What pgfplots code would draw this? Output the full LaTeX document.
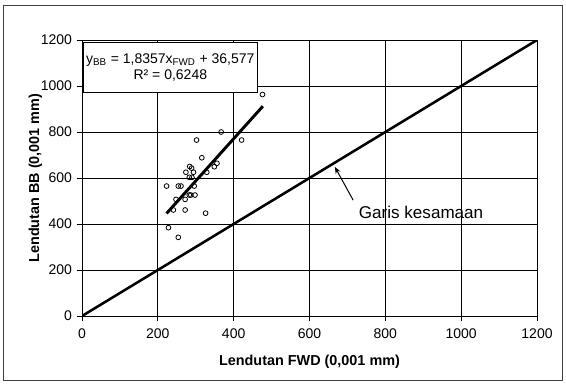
\documentclass[border=0pt]{standalone}
\usepackage{fontspec}
\setmainfont{Liberation Sans}
\usepackage{pgfplots}
\pgfplotsset{compat=1.18}
\usetikzlibrary{arrows.meta}

% FWD vs Benkelman beam deflections
\pgfplotstableread{
x   y
476 963
367 800
302 765
421 765
316 688
356 664
349 649
284 650
289 643
274 625
294 625
329 625
283 603
290 603
223 565
254 565
261 565
296 565
283 526
287 526
298 526
248 507
272 507
241 461
272 461
326 447
228 384
254 342
}\deflections

\begin{document}
\begin{tikzpicture}
\path[use as bounding box] (-61.5pt,-50.25pt) rectangle (363pt,237pt);
\draw[line width=0.75pt, black!75] (-58.5pt,-48pt) rectangle (360pt,233.25pt);
\begin{axis}[
  at={(0pt,0pt)}, anchor=south west,
  scale only axis, width=341.25pt, height=207pt,
  xmin=0, xmax=1200, ymin=0, ymax=1200,
  xtick={0,200,...,1200}, ytick={0,200,...,1200},
  grid=major,
  major grid style={black, line width=0.6pt},
  axis line style={black, line width=0.75pt},
  tick style={black, line width=0.6pt},
  tick align=outside, tick pos=left, major tick length=4pt,
  ticklabel style={font=\fontsize{10.5}{12}\selectfont},
  xticklabel style={yshift=-2pt},
  /pgf/number format/assume math mode=true,
  /pgf/number format/set thousands separator={},
  xlabel={Lendutan FWD (0,001 mm)},
  ylabel={Lendutan BB (0,001 mm)},
  label style={font=\fontsize{10.8}{12}\selectfont\bfseries},
  xlabel style={at={([yshift=-34.5pt]axis description cs:0.5,0)}, anchor=center},
  ylabel style={at={([xshift=-35pt]axis description cs:0,0.5)}, anchor=center},
]
% measured points
\addplot[only marks, mark=o, mark size=1.8pt, mark options={line width=0.6pt, black}]
  table[x=x, y=y] {\deflections};
% linear regression
\addplot[black, line width=2.2pt] coordinates {(223,445.9) (477,912.2)};
% line of equality
\addplot[black, line width=1.9pt] coordinates {(0,0) (1200,1200)};

\node[draw, fill=white, line width=0.6pt, anchor=north west, align=center,
      minimum width=128.25pt, minimum height=37.5pt, inner sep=2pt,
      font=\fontsize{10.5}{12.5}\selectfont]
  at (axis cs:3,1191)
  {y\textsubscript{BB} = 1,8357x\textsubscript{FWD} + 36,577\\R² = 0,6248};

\draw[-{Stealth[length=5pt,width=4pt]}, line width=0.75pt] (axis cs:715,504) -- (axis cs:667,648);
\node[anchor=west, font=\fontsize{12.8}{14}\selectfont] at (axis cs:718,452) {Garis kesamaan};
\end{axis}
\end{tikzpicture}
\end{document}
